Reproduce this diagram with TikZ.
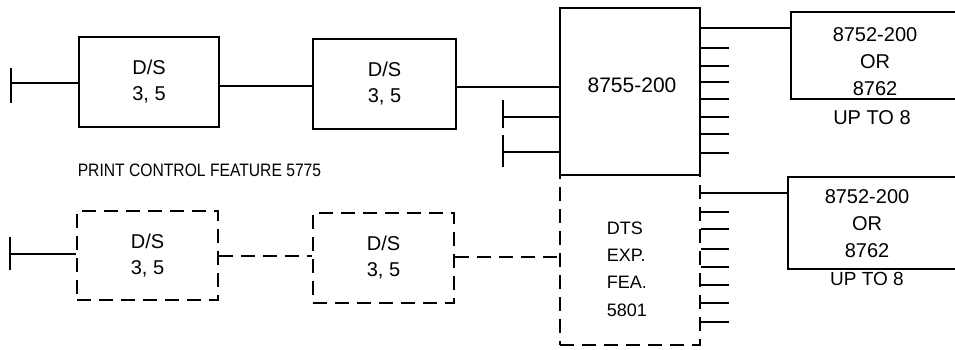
\documentclass[tikz,border=0pt]{standalone}
\usepackage{fontspec}
\setmainfont{Liberation Sans}
\begin{document}
\begin{tikzpicture}[x=1pt,y=-1pt,line width=1.6pt,
  blk/.style={draw, line width=1.6pt, inner sep=0pt, align=center, font=\fontsize{20}{26}\selectfont},
  dblk/.style={blk, dash pattern=on 14pt off 8pt},
  wire/.style={line width=1.6pt},
  dwire/.style={wire, dash pattern=on 14pt off 8pt},
  lbl/.style={inner sep=0pt, align=center, font=\fontsize{20}{27}\selectfont}]
\useasboundingbox (0,0) rectangle (955,350);

% ---------- top row ----------
\node[blk, minimum width=140, minimum height=90] (b1) at (149,82) {D/S\\3, 5};
\node[blk, minimum width=143, minimum height=90] (b2) at (384.5,84) {D/S\\3, 5};
\node[blk, minimum width=140, minimum height=167] (m) at (630,91.5) {};
\node[lbl, font=\fontsize{21}{27}\selectfont] (mt) at (632,85) {8755-200};

\coordinate (t0a) at (11,68);
\coordinate (t0b) at (11,103);
\draw[wire] (t0a) -- (t0b);
\draw[wire] (11,83) -- (b1.west |- 0,83);
\draw[wire] (b1.east |- 0,86) -- (b2.west |- 0,86);
\draw[wire] (b2.east |- 0,87) -- (m.west |- 0,87);

\foreach \y/\a/\b in {117/100/128, 152/135/167}{
  \draw[wire] (503,\a) -- (503,\b);
  \draw[wire] (503,\y) -- (m.west |- 0,\y);
}

\coordinate (r1nw) at (791,12);
\coordinate (r1sw) at (791,99);
\draw[wire] (956,12) -- (r1nw) -- (r1sw) -- (956,99);
\node[lbl] (r1t) at (875,61.5) {8752-200\\OR\\8762};
\node[lbl] (r1u) at (872,118) {UP TO 8};
\draw[wire] (m.east |- 0,28) -- (r1nw |- 0,28);
\foreach \y in {48,66,82,99,117,134,153}
  \draw[wire] (m.east |- 0,\y) -- ++(28,0);

% ---------- label ----------
\node[anchor=west, inner sep=0pt, font=\fontsize{18}{18}\selectfont] (pc) at (77,170)
  {\scalebox{0.87}[1]{PRINT CONTROL FEATURE 5775}};

% ---------- bottom row ----------
\node[dblk, minimum width=141, minimum height=89] (c1) at (147.5,255.5) {D/S\\3, 5};
\node[dblk, minimum width=141, minimum height=90] (c2) at (383.5,258) {D/S\\3, 5};
\node[dblk, minimum width=140, minimum height=170] (d) at (630,260) {};
\node[lbl, align=left, anchor=west, font=\fontsize{18}{27.3}\selectfont] (dt) at (606,269)
  {DTS\\EXP.\\FEA.\\5801};

\draw[wire] (10,237) -- (10,270);
\draw[wire] (10,254) -- (c1.west |- 0,254);
\draw[dwire] (c1.east |- 0,256) -- (c2.west |- 0,256);
\draw[dwire] (c2.east |- 0,257) -- (d.west |- 0,257);

\coordinate (r2nw) at (788,177);
\coordinate (r2sw) at (788,269);
\draw[wire] (956,177) -- (r2nw) -- (r2sw) -- (956,269);
\node[lbl] (r2t) at (867,224) {8752-200\\OR\\8762};
\node[lbl, font=\fontsize{19}{27}\selectfont] (r2u) at (867,279) {UP TO 8};
\draw[wire] (d.east |- 0,193) -- (r2nw |- 0,193);
\foreach \y in {212,229,249,267,285,303,322}
  \draw[wire] (d.east |- 0,\y) -- ++(28,0);
\end{tikzpicture}
\end{document}
